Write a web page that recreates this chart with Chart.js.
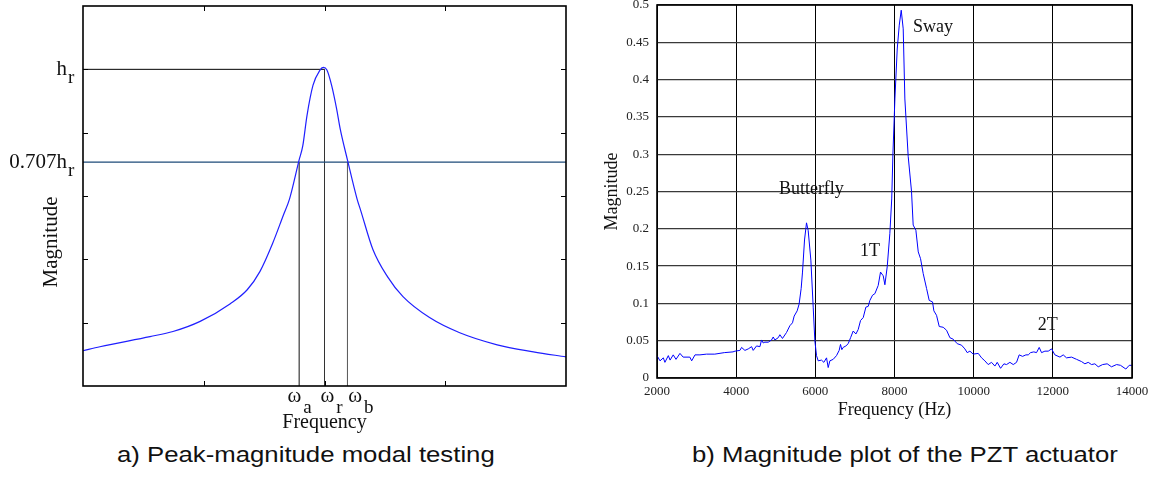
<!DOCTYPE html>
<html><head><meta charset="utf-8">
<script src="https://cdn.jsdelivr.net/npm/chart.js@4.4.1/dist/chart.umd.min.js"></script>
<style>
html,body{margin:0;padding:0;background:#fff;width:1162px;height:485px;overflow:hidden;}
#wrapA{position:absolute;left:0;top:0;width:580px;height:440px;}
#wrapB{position:absolute;left:580px;top:0;width:582px;height:440px;}
.cap{position:absolute;top:444px;font-family:"Liberation Sans",Arial,sans-serif;font-size:22px;line-height:22px;color:#111;white-space:nowrap;transform:scaleX(1.17);transform-origin:0 0;}
</style></head><body>
<div id="wrapA"><canvas id="chartA"></canvas></div>
<div id="wrapB"><canvas id="chartB"></canvas></div>
<div class="cap" style="left:117px">a) Peak-magnitude modal testing</div>
<div class="cap" style="left:692px">b) Magnitude plot of the PZT actuator</div>
<script>
// ---------- (a) peak-magnitude sketch ----------
const leftFreq = [0,0.14,0.555,0.745,0.97,1.22,1.36,1.466,1.57,1.66,1.71,1.79,1.82,1.855,1.905,1.96,1.99,2.02,2.06,2.10,2.13,2.19,2.27,2.30,2.40,2.52,2.65,2.87,3.12,3.43,3.73,4.0];
const leftMag  = [0.556,0.62,0.78,0.86,1.02,1.30,1.52,1.81,2.25,2.70,2.95,3.57,3.79,4.27,4.75,4.98,5.03,4.99,4.74,4.38,4.06,3.57,2.95,2.77,2.16,1.73,1.41,1.08,0.84,0.65,0.54,0.46];
const hr = 5.0;
const halfPowerRatio = 0.707;
const omegaA = 1.79, omegaR = 2.0, omegaB = 2.19;
const leftXTicks = [1,2,3];
const leftYTicks = [1,2,3,4,5];
const leftYLabelMain = ['h','0.707h'];
const leftYLabelSub = ['r','r'];
const leftXLabelMain = ['\u03c9','\u03c9','\u03c9'];
const leftXLabelSub = ['a','r','b'];

// ---------- (b) PZT actuator magnitude ----------
const freqHz = [2000,2076,2160,2200,2286,2330,2410,2480,2580,2660,2830,2876,2960,3085,3250,3460,3700,3920,3970,4095,4137,4221,4305,4390,4430,4515,4600,4641,4683,4725,4810,4894,4936,4978,5062,5104,5170,5272,5356,5423,5465,5541,5590,5642,5676,5727,5777,5819,5887,5946,5988,6030,6072,6156,6215,6283,6325,6367,6451,6535,6602,6636,6670,6704,6772,6830,6890,6957,7025,7083,7142,7210,7277,7336,7378,7445,7504,7588,7647,7715,7757,7816,7883,7930,7960,8010,8069,8120,8170,8220,8262,8346,8430,8472,8540,8600,8658,8725,8810,8877,8961,8995,9062,9130,9230,9315,9400,9483,9585,9694,9778,9837,9905,9989,10115,10200,10283,10367,10451,10536,10595,10680,10764,10830,10916,11000,11083,11150,11235,11320,11380,11437,11520,11588,11656,11715,11800,11884,11968,12052,12180,12262,12346,12473,12600,12725,12810,12894,12978,13062,13147,13257,13373,13482,13610,13710,13845,13929,14000];
const magnitude = [0.030,0.023,0.027,0.021,0.030,0.024,0.031,0.025,0.033,0.028,0.028,0.023,0.031,0.031,0.032,0.032,0.034,0.035,0.036,0.037,0.041,0.037,0.039,0.042,0.037,0.043,0.042,0.051,0.047,0.048,0.048,0.051,0.055,0.051,0.054,0.058,0.053,0.061,0.070,0.074,0.083,0.090,0.099,0.120,0.142,0.185,0.208,0.198,0.158,0.095,0.050,0.030,0.023,0.024,0.021,0.027,0.014,0.023,0.025,0.030,0.037,0.045,0.038,0.041,0.043,0.046,0.054,0.063,0.059,0.065,0.077,0.081,0.095,0.096,0.104,0.111,0.113,0.124,0.142,0.137,0.125,0.149,0.194,0.240,0.300,0.374,0.441,0.473,0.493,0.468,0.374,0.297,0.250,0.205,0.198,0.169,0.160,0.140,0.120,0.104,0.102,0.090,0.084,0.069,0.068,0.064,0.054,0.052,0.046,0.044,0.039,0.034,0.036,0.032,0.033,0.027,0.023,0.018,0.021,0.016,0.021,0.013,0.019,0.018,0.021,0.018,0.021,0.031,0.029,0.031,0.031,0.034,0.035,0.034,0.041,0.034,0.036,0.036,0.039,0.031,0.028,0.031,0.027,0.028,0.025,0.022,0.019,0.021,0.018,0.019,0.015,0.018,0.019,0.015,0.018,0.017,0.012,0.017,0.017];
const xTickValues = [2000,4000,6000,8000,10000,12000,14000];
const xTickLabels = ['2000','4000','6000','8000','10000','12000','14000'];
const yTickValues = [0,0.05,0.1,0.15,0.2,0.25,0.3,0.35,0.4,0.45,0.5];
const yTickLabels = ['0','0.05','0.1','0.15','0.2','0.25','0.3','0.35','0.4','0.45','0.5'];
const annoText = ['Butterfly','Sway','1T','2T'];
const annoFreq = [5900,8970,7380,11870];
const annoMag  = [0.253,0.470,0.170,0.071];

Chart.defaults.font.family = '"Liberation Serif", "Times New Roman", serif';
Chart.defaults.color = '#111';

const halfPower = hr * halfPowerRatio;
const seg = (x1,y1,x2,y2) => [{x:x1,y:y1},{x:x2,y:y2}];
const lineDs = (data, color, w) => ({data, borderColor:color, borderWidth:w, pointRadius:0, fill:false, tension:0});

const leftDecor = {
  id:'leftDecor',
  afterDraw(chart){
    const {ctx, chartArea:a, scales:{x,y}} = chart;
    ctx.save();
    ctx.strokeStyle='#000'; ctx.lineWidth=1;
    ctx.beginPath();
    leftXTicks.forEach(v=>{const px=Math.round(x.getPixelForValue(v))+0.5;
      ctx.moveTo(px,a.bottom); ctx.lineTo(px,a.bottom-5); ctx.moveTo(px,a.top); ctx.lineTo(px,a.top+5);});
    leftYTicks.forEach(v=>{const py=Math.round(y.getPixelForValue(v))+0.5;
      ctx.moveTo(a.left,py); ctx.lineTo(a.left+5,py); ctx.moveTo(a.right,py); ctx.lineTo(a.right-5,py);});
    ctx.stroke();
    ctx.lineWidth=1.6;
    ctx.strokeRect(a.left,a.top,a.right-a.left,a.bottom-a.top);
    // y labels
    ctx.fillStyle='#111';
    const yAt=[hr, halfPower];
    leftYLabelMain.forEach((t,i)=>{
      const py=y.getPixelForValue(yAt[i]);
      ctx.font='21px "Liberation Serif"'; ctx.textAlign='right'; ctx.textBaseline='alphabetic';
      ctx.fillText(t, a.left-16, py+6);
      ctx.font='19px "Liberation Serif"'; ctx.textAlign='left';
      ctx.fillText(leftYLabelSub[i], a.left-15, py+14);
    });
    // x labels
    const xAt=[omegaA, omegaR, omegaB];
    leftXLabelMain.forEach((t,i)=>{
      const px=x.getPixelForValue(xAt[i]);
      ctx.font='21px "Liberation Serif"';
      const w1=ctx.measureText(t).width;
      ctx.font='19px "Liberation Serif"';
      const w2=ctx.measureText(leftXLabelSub[i]).width;
      const cx=px+(i-1)*6.5+7;
      const x0=cx-(w1+2+w2)/2;
      ctx.textAlign='left'; ctx.textBaseline='alphabetic';
      ctx.font='21px "Liberation Serif"';
      ctx.fillText(t, x0, a.bottom+16);
      ctx.font='19px "Liberation Serif"';
      ctx.fillText(leftXLabelSub[i], x0+w1+2, a.bottom+27);
    });
    // y title
    ctx.translate(51, 242); ctx.rotate(-Math.PI/2);
    ctx.font='21px "Liberation Serif"'; ctx.textAlign='center'; ctx.textBaseline='middle';
    ctx.fillText('Magnitude',0,0);
    ctx.restore();
  }
};

new Chart(document.getElementById('chartA'), {
  type:'line',
  data:{datasets:[
    Object.assign(lineDs(leftFreq.map((v,i)=>({x:v,y:leftMag[i]})), '#1f1fff', 1.2), {cubicInterpolationMode:'monotone'}),
    lineDs(seg(0,hr,omegaR,hr), '#000', 1),
    lineDs(seg(0,halfPower,4,halfPower), '#1d4a78', 1.2),
    lineDs(seg(omegaA,0,omegaA,halfPower), '#111', 1),
    lineDs(seg(omegaR,0,omegaR,hr), '#333', 1),
    lineDs(seg(omegaB,0,omegaB,halfPower), '#555', 1)
  ]},
  options:{
    responsive:true, maintainAspectRatio:false, animation:false,
    layout:{padding:{top:6,right:14,left:0,bottom:0}},
    plugins:{legend:{display:false}, tooltip:{enabled:false}},
    scales:{
      x:{type:'linear', min:0, max:4, grid:{display:false}, border:{display:false}, ticks:{display:false},
         title:{display:true, text:'Frequency', font:{size:20}, color:'#111', padding:{top:0,bottom:5}},
         afterFit:s=>{s.height=54; s.paddingLeft=0; s.paddingRight=0;}},
      y:{type:'linear', min:0, max:6, grid:{display:false}, border:{display:false}, ticks:{display:false},
         afterFit:s=>{s.width=83; s.paddingTop=0; s.paddingBottom=0;}}
    }
  },
  plugins:[leftDecor]
});

const rightDecor = {
  id:'rightDecor',
  afterDraw(chart){
    const {ctx, chartArea:a, scales:{x,y}} = chart;
    ctx.save();
    ctx.strokeStyle='#000'; ctx.lineWidth=1.6;
    ctx.strokeRect(a.left,a.top,a.right-a.left,a.bottom-a.top);
    ctx.fillStyle='#111'; ctx.font='18px "Liberation Serif"';
    ctx.textAlign='center'; ctx.textBaseline='middle';
    annoText.forEach((t,i)=>ctx.fillText(t, x.getPixelForValue(annoFreq[i]), y.getPixelForValue(annoMag[i])));
    ctx.restore();
  }
};

new Chart(document.getElementById('chartB'), {
  type:'line',
  data:{datasets:[
    lineDs(freqHz.map((f,i)=>({x:f,y:magnitude[i]})), '#0000ff', 1)
  ]},
  options:{
    responsive:true, maintainAspectRatio:false, animation:false,
    layout:{padding:{top:5,right:30,left:0,bottom:0}},
    plugins:{legend:{display:false}, tooltip:{enabled:false}},
    scales:{
      x:{type:'linear', min:2000, max:14000,
         afterBuildTicks:s=>{s.ticks=xTickValues.map(v=>({value:v}));},
         ticks:{autoSkip:false, maxRotation:0, padding:6, font:{size:13}, color:'#222', callback:(v,i)=>xTickLabels[i]},
         grid:{color:'#000', lineWidth:1, drawTicks:false}, border:{display:false},
         title:{display:true, text:'Frequency (Hz)', font:{size:18}, color:'#111', padding:{top:0,bottom:19}},
         afterFit:s=>{s.height=62; s.paddingLeft=0; s.paddingRight=0;}},
      y:{type:'linear', min:0, max:0.5,
         afterBuildTicks:s=>{s.ticks=yTickValues.map(v=>({value:v}));},
         ticks:{autoSkip:false, padding:8, font:{size:13}, color:'#222', callback:(v,i)=>yTickLabels[i]},
         grid:{color:'#3a3a3a', lineWidth:1.2, drawTicks:false}, border:{display:false},
         title:{display:true, text:'Magnitude', font:{size:18}, color:'#111', padding:{top:21,bottom:0}},
         afterFit:s=>{s.width=77; s.paddingTop=0; s.paddingBottom=0;}}
    }
  },
  plugins:[rightDecor]
});
</script>
</body></html>
